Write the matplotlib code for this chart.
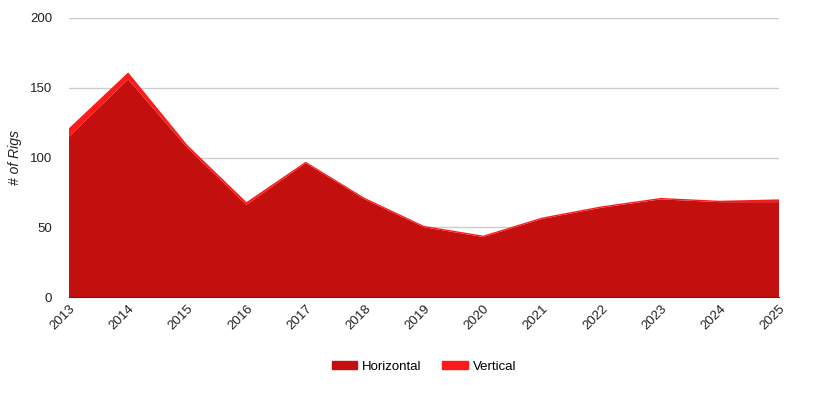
import numpy as np
import matplotlib
matplotlib.use('Agg')
from matplotlib import pyplot as plt
from matplotlib.patches import Patch

plt.rcParams['font.family'] = ['Liberation Sans', 'DejaVu Sans']

years = [2013, 2014, 2015, 2016, 2017, 2018, 2019, 2020, 2021, 2022, 2023, 2024, 2025]
horizontal = [115, 156, 107, 66, 96, 70, 50, 43, 56, 64, 70, 68, 68]
vertical = [6, 5, 2, 2, 1, 1, 1, 1, 1, 1, 1, 1, 2]
series_names = ['Horizontal', 'Vertical']
colors = ['#C40F0F', '#FF1A1A']

fig = plt.figure(figsize=(8.2, 3.96), dpi=100)
ax = fig.add_axes([69 / 820, 1 - 297 / 396, 710 / 820, 279 / 396])

ax.stackplot(years, horizontal, vertical, colors=colors, linewidth=0)
ax.set_xlim(years[0], years[-1])
ax.set_ylim(0, 200)
ax.set_yticks([0, 50, 100, 150, 200])
ax.set_xticks(years)
ax.set_xticklabels([str(y) for y in years], rotation=45, ha='right',
                   rotation_mode='anchor', fontsize=9.5, color='#222222')
ax.tick_params(axis='x', length=0, pad=4)
ax.tick_params(axis='y', length=0, pad=12, labelsize=9.5, labelcolor='#222222')
ax.grid(axis='y', color='#cccccc', linewidth=1)
ax.set_axisbelow(True)
for s in ['top', 'right', 'left']:
    ax.spines[s].set_visible(False)
ax.spines['bottom'].set_color('#333333')
ax.spines['bottom'].set_zorder(5)
ax.set_ylabel('# of Rigs', fontsize=10, style='italic', color='#222222')
ax.yaxis.set_label_coords(-0.066, 0.50)

handles = [Patch(color=c, label=n) for c, n in zip(colors, series_names)]
fig.legend(handles=handles, loc='center', bbox_to_anchor=(0.517, 1 - 367 / 396),
           ncol=2, frameon=False, fontsize=9.5, handlelength=1.9, handleheight=0.55,
           columnspacing=1.6, handletextpad=0.4)

plt.savefig('out.png', dpi=100)
